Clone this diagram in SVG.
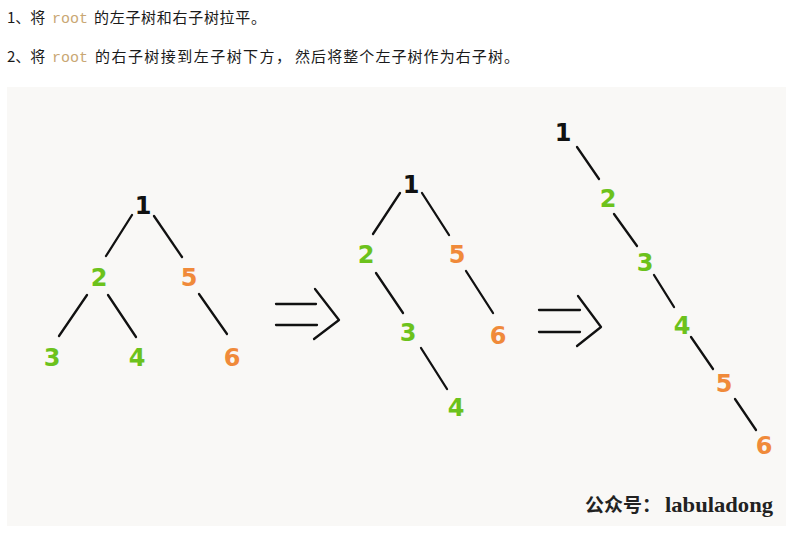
<svg xmlns="http://www.w3.org/2000/svg" width="788" height="537" viewBox="0 0 788 537">
<style>
.cap{font-family:"Noto Sans CJK SC","Noto Sans",sans-serif;font-size:15px;fill:#1a1a1a}
.code{font-family:"Liberation Mono","DejaVu Sans Mono",monospace;font-size:15px;fill:#c9a774}
.n{font-family:"DejaVu Sans",sans-serif;font-weight:bold;font-size:24px;text-anchor:middle}
.k{fill:#111}.g{fill:#6cc21c}.o{fill:#f08a3a}
.e line,.e polyline{stroke:#111;stroke-width:2.3;stroke-linecap:round;stroke-linejoin:round;fill:none}
.wm{font-family:"Noto Sans CJK SC",sans-serif;font-weight:bold;font-size:19px;fill:#222}
.wl{font-family:"Liberation Serif",serif;font-weight:bold;font-size:22px;fill:#222}
</style>
<rect width="788" height="537" fill="#ffffff"/>
<rect x="7" y="87" width="779" height="439" fill="#f9f8f6"/>
<g id="caption">
<text class="cap" x="7" y="23">1、将</text>
<text class="code" x="52" y="23" textLength="36">root</text>
<text class="cap" x="94" y="23" textLength="172" lengthAdjust="spacing">的左子树和右子树拉平。</text>
<text class="cap" x="7" y="62">2、将</text>
<text class="code" x="52" y="62" textLength="36">root</text>
<text class="cap" x="95" y="62" textLength="196" lengthAdjust="spacing">的右子树接到左子树下方，</text>
<text class="cap" x="295" y="62" textLength="224" lengthAdjust="spacing">然后将整个左子树作为右子树。</text>
</g>
<g id="connectors" class="e">
<line x1="132" y1="215" x2="106" y2="256"/>
<line x1="154" y1="216" x2="182" y2="257"/>
<line x1="87" y1="295" x2="59" y2="336"/>
<line x1="108" y1="295" x2="136" y2="337"/>
<line x1="199" y1="294" x2="227" y2="334"/>
<line x1="400" y1="193" x2="373" y2="234"/>
<line x1="422" y1="193" x2="449" y2="235"/>
<line x1="376" y1="273" x2="403" y2="313"/>
<line x1="466" y1="271" x2="493" y2="313"/>
<line x1="421" y1="348" x2="447" y2="389"/>
<line x1="577" y1="147" x2="599" y2="179"/>
<line x1="614" y1="214" x2="637" y2="246"/>
<line x1="654" y1="275" x2="674" y2="307"/>
<line x1="691" y1="337" x2="713" y2="369"/>
<line x1="735" y1="399" x2="756" y2="430"/>
</g>
<g id="arrow1" class="e">
<line x1="276" y1="304" x2="316" y2="304"/>
<line x1="276" y1="325" x2="317" y2="325"/>
<polyline points="315,289 339,320 314,339"/>
</g>
<g id="arrow2" class="e">
<line x1="539" y1="310" x2="580" y2="310"/>
<line x1="539" y1="332" x2="580" y2="332"/>
<polyline points="578,296 601,327 577,346"/>
</g>
<g id="a1"><text class="n k" x="143" y="214">1</text></g>
<g id="a2"><text class="n g" x="99" y="286">2</text></g>
<g id="a5"><text class="n o" x="189" y="286">5</text></g>
<g id="a3"><text class="n g" x="52" y="366">3</text></g>
<g id="a4"><text class="n g" x="137" y="366">4</text></g>
<g id="a6"><text class="n o" x="232" y="366">6</text></g>
<g id="b1"><text class="n k" x="411" y="193">1</text></g>
<g id="b2"><text class="n g" x="366" y="263">2</text></g>
<g id="b5"><text class="n o" x="457" y="263">5</text></g>
<g id="b3"><text class="n g" x="408" y="341">3</text></g>
<g id="b6"><text class="n o" x="498" y="344">6</text></g>
<g id="b4"><text class="n g" x="456" y="416">4</text></g>
<g id="c1"><text class="n k" x="563" y="141">1</text></g>
<g id="c2"><text class="n g" x="608" y="207">2</text></g>
<g id="c3"><text class="n g" x="645" y="271">3</text></g>
<g id="c4"><text class="n g" x="682" y="334">4</text></g>
<g id="c5"><text class="n o" x="724" y="392">5</text></g>
<g id="c6"><text class="n o" x="764" y="454">6</text></g>
<g id="watermark">
<text class="wm" x="585" y="512">公众号：</text>
<text class="wl" x="665" y="512" textLength="108" lengthAdjust="spacingAndGlyphs">labuladong</text>
</g>
</svg>
